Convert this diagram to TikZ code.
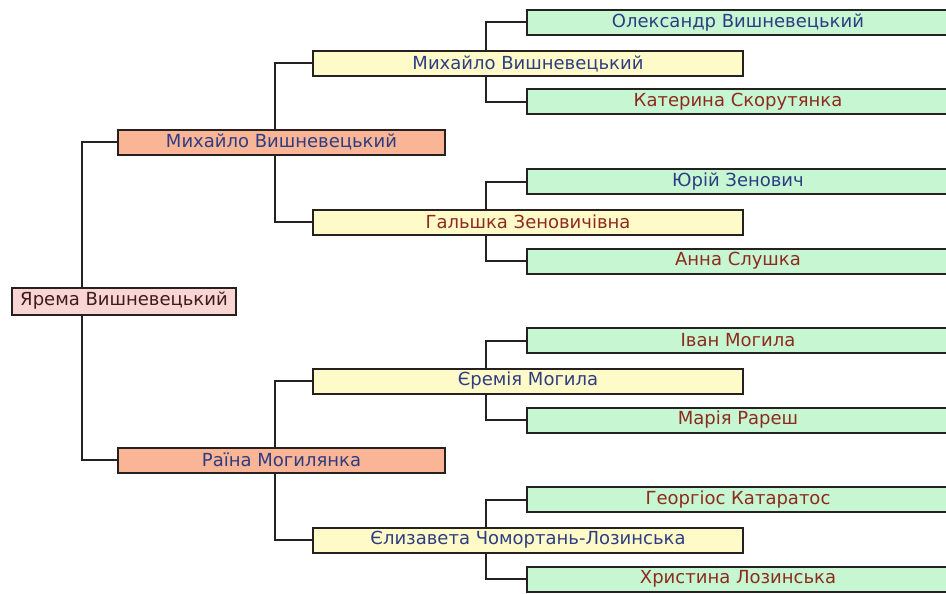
\documentclass[tikz,border=0pt]{standalone}
\usepackage{fontspec}
\setmainfont{DejaVu Sans}
\usetikzlibrary{backgrounds}
\definecolor{selffill}{HTML}{F9D6D4}
\definecolor{parfill}{HTML}{F9B596}
\definecolor{gpfill}{HTML}{FFFBC9}
\definecolor{ggpfill}{HTML}{C6F7D2}
\definecolor{boxline}{HTML}{262020}
\definecolor{mname}{HTML}{2E3C82}
\definecolor{fname}{HTML}{8E2A1F}
\definecolor{selfname}{HTML}{3A1C1C}
\newcommand{\famfont}{\fontsize{18}{20}\selectfont}
\tikzset{
  fambox/.style={draw=boxline,line width=2pt,minimum height=25pt,inner sep=0pt,font=\famfont},
  selfbox/.style={fambox,fill=selffill,minimum width=224pt,minimum height=27pt},
  parbox/.style={fambox,fill=parfill,minimum width=327pt},
  gpbox/.style={fambox,fill=gpfill,minimum width=430pt},
  ggpbox/.style={fambox,fill=ggpfill,minimum width=422pt},
  famline/.style={draw=boxline,line width=2pt}
}
\newcommand{\parnode}[4]{\node[parbox,text=#3] (#1) at (281.5,#2) {#4};}
\newcommand{\gpnode}[4]{\node[gpbox,text=#3] (#1) at (528,#2) {#4};}
\newcommand{\ggpnode}[4]{\node[ggpbox,text=#3] (#1) at (738,#2) {#4};}
\newcommand{\famlink}[3]{\draw[famline] (#1.west) -- ++(-#3,0) |- (#2.west);}

\begin{document}
\begin{tikzpicture}[x=1pt,y=-1pt]
  \path[use as bounding box,clip] (0,0) rectangle (946,594);
  % subject
  \node[selfbox,text=selfname] (yarema) at (124,301) {Ярема Вишневецький};
  % parents
  \parnode{mykhf}{142}{mname}{Михайло Вишневецький}
  \parnode{raina}{460}{mname}{Раїна Могилянка}
  % grandparents
  \gpnode{mykhg}{63.5}{mname}{Михайло Вишневецький}
  \gpnode{halsh}{222}{fname}{Гальшка Зеновичівна}
  \gpnode{yerem}{381}{mname}{Єремія Могила}
  \gpnode{elyz}{540}{mname}{Єлизавета Чомортань-Лозинська}
  % great-grandparents
  \ggpnode{oleks}{22.5}{mname}{Олександр Вишневецький}
  \ggpnode{kater}{102}{fname}{Катерина Скорутянка}
  \ggpnode{yurii}{181.5}{mname}{Юрій Зенович}
  \ggpnode{anna}{261}{fname}{Анна Слушка}
  \ggpnode{ivan}{340.5}{fname}{Іван Могила}
  \ggpnode{mariia}{420}{fname}{Марія Рареш}
  \ggpnode{heorh}{499.5}{fname}{Георгіос Катаратос}
  \ggpnode{khryst}{579}{fname}{Христина Лозинська}
  \begin{scope}[on background layer]
    \fill[white] (0,0) rectangle (946,594);
    \famlink{mykhf}{raina}{35}
    \famlink{mykhg}{halsh}{37}
    \famlink{yerem}{elyz}{37}
    \famlink{oleks}{kater}{40}
    \famlink{yurii}{anna}{40}
    \famlink{ivan}{mariia}{40}
    \famlink{heorh}{khryst}{40}
  \end{scope}
\end{tikzpicture}
\end{document}
